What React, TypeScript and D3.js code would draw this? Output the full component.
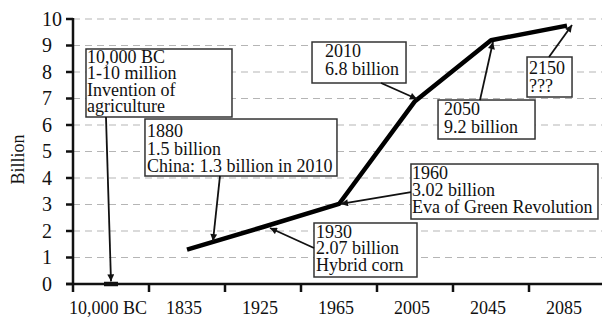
import React from 'react';
import * as d3 from 'd3';

// x categories and population (billion)
const categories = ['10,000 BC', '1835', '1925', '1965', '2005', '2045', '2085'];
const population = [0, 1.3, 2.15, 3.02, 6.9, 9.2, 9.75];
const yTicks = [0, 1, 2, 3, 4, 5, 6, 7, 8, 9, 10];

// callout texts
const noteTexts = [
  ['10,000 BC', '1-10 million', 'Invention of', 'agriculture'],
  ['1880', '1.5 billion', 'China: 1.3 billion in 2010'],
  ['2010', '6.8 billion'],
  ['2050', '9.2 billion'],
  ['2150', '???'],
  ['1960', '3.02 billion', 'Eva of Green Revolution'],
  ['1930', '2.07 billion', 'Hybrid corn'],
];

// callout layout in (category index, value) space: box corner + arrow start/tip
const noteLayout = [
  { bi: -0.329, bv: 8.868, w: 146, h: 68, pad: 1, first: 14, gap: 16.4, si: -0.066, sv: 6.3, ti: 0, tv: 0.1 },
  { bi: 0.447, bv: 6.226, w: 192, h: 57, pad: 2, first: 18, gap: 17.5, si: 1.434, sv: 4.08, ti: 1.342, tv: 1.62 },
  { bi: 2.645, bv: 9.132, w: 94, h: 41, pad: 13, first: 15, gap: 18, si: 3.553, sv: 7.585, ti: 4.026, tv: 6.98 },
  { bi: 4.303, bv: 6.943, w: 97, h: 39, pad: 6, first: 15, gap: 18, si: 4.855, sv: 6.94, ti: 5.026, tv: 9.13 },
  { bi: 5.474, bv: 8.566, w: 45, h: 40, pad: 2, first: 17, gap: 18, si: 5.763, sv: 8.566, ti: 6.066, tv: 9.774 },
  { bi: 3.947, bv: 4.528, w: 187, h: 55, pad: 1, first: 15, gap: 17, si: 3.947, sv: 3.47, ti: 3.026, tv: 3.02 },
  { bi: 2.671, bv: 2.302, w: 103, h: 54, pad: 2, first: 15, gap: 16.5, si: 2.671, sv: 1.358, ti: 2.092, tv: 2.113 },
];

const W = 602, H = 318;
const left = 73, right = 605, top = 19, bottom = 284;
const font = '"Liberation Serif", "Times New Roman", serif';

export default function App() {
  const x = d3.scaleBand<string>().domain(categories).range([left, right]).paddingInner(0).paddingOuter(0);
  const xi = d3.scaleLinear().domain([-0.5, categories.length - 0.5]).range([left, right]);
  const y = d3.scaleLinear().domain([0, 10]).range([bottom, top]);
  const bw = x.bandwidth();

  const pts = categories.slice(1).map((c, k) => [x(c)! + bw / 2, y(population[k + 1])] as [number, number]);
  const line = d3.line();
  const c0 = x(categories[0])! + bw / 2;

  return (
    <svg width={W} height={H} style={{ position: 'absolute', left: 0, top: 0, background: '#fff' }} fontFamily={font}>
      <defs>
        <marker id="ah" viewBox="0 0 10 10" refX="10" refY="5" markerWidth="9" markerHeight="7" markerUnits="userSpaceOnUse" orient="auto">
          <path d="M0,0 L10,5 L0,10 z" fill="#111" />
        </marker>
      </defs>

      {/* gridlines */}
      {yTicks.slice(1).map(t => (
        <line key={t} x1={left} x2={W} y1={y(t)} y2={y(t)} stroke="#b5b5b5" strokeWidth={1} strokeDasharray="7,5" />
      ))}

      {/* y axis */}
      <line x1={left} x2={left} y1={y(10) - 1} y2={bottom} stroke="#111" strokeWidth={2.5} />
      {yTicks.map(t => (
        <g key={t}>
          <line x1={left - 7} x2={left} y1={y(t)} y2={y(t)} stroke="#111" strokeWidth={2.5} />
          <text x={42} y={y(t)} dy="0.34em" fontSize={20} fill="#111">{t}</text>
        </g>
      ))}
      <text transform={`translate(24,${(top + bottom) / 2 + 8}) rotate(-90)`} textAnchor="middle" fontSize={18} fill="#111">Billion</text>

      {/* x axis */}
      <line x1={left - 7} x2={W} y1={bottom} y2={bottom} stroke="#111" strokeWidth={2.5} />
      {categories.map(c => (
        <g key={c}>
          <line x1={x(c)!} x2={x(c)!} y1={bottom} y2={bottom + 8} stroke="#111" strokeWidth={2.5} />
          <text x={x(c)! + bw / 2 - 3} y={314} textAnchor="middle" fontSize={18} fill="#111">{c}</text>
        </g>
      ))}

      {/* data */}
      <line x1={c0 - 7} x2={c0 + 7} y1={y(population[0])} y2={y(population[0])} stroke="#111" strokeWidth={4.5} />
      <path d={line(pts) || ''} fill="none" stroke="#000" strokeWidth={4.5} strokeLinejoin="round" />

      {/* callouts */}
      {noteTexts.map((lines, k) => {
        const L = noteLayout[k];
        const bx = xi(L.bi), by = y(L.bv);
        return (
          <g key={k}>
            <rect x={bx} y={by} width={L.w} height={L.h} fill="#fff" stroke="#333" strokeWidth={1.5} />
            <text x={bx + L.pad} y={by + L.first} fontSize={18} fill="#111">
              {lines.map((s, j) => (
                <tspan key={j} x={bx + L.pad} dy={j === 0 ? 0 : L.gap}>{s}</tspan>
              ))}
            </text>
            <line x1={xi(L.si)} y1={y(L.sv)} x2={xi(L.ti)} y2={y(L.tv)} stroke="#111" strokeWidth={1.8} markerEnd="url(#ah)" />
          </g>
        );
      })}
    </svg>
  );
}
